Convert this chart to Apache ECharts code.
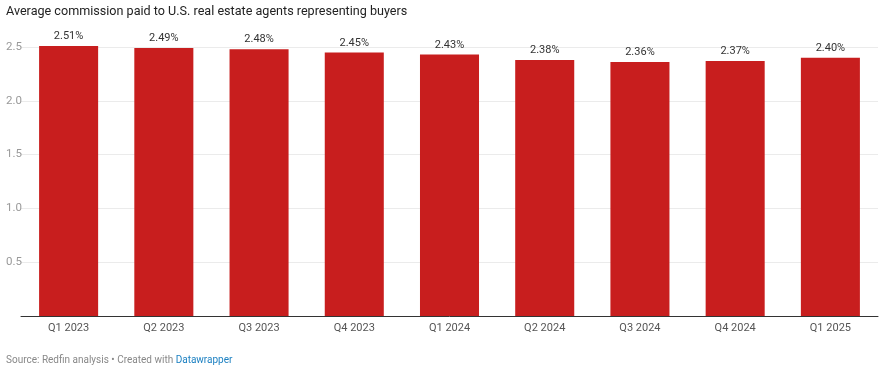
<!DOCTYPE html>
<html><head><meta charset="utf-8">
<script src="https://cdn.jsdelivr.net/npm/echarts@6/dist/echarts.min.js"></script>
<style>html,body{margin:0;padding:0;background:#fff}#c{width:879px;height:374px}</style>
</head><body><div id="c"></div>
<script>
const titleText = "Average commission paid to U.S. real estate agents representing buyers";
const categories = ["Q1 2023","Q2 2023","Q3 2023","Q4 2023","Q1 2024","Q2 2024","Q3 2024","Q4 2024","Q1 2025"];
const values = [2.51, 2.49, 2.48, 2.45, 2.43, 2.38, 2.36, 2.37, 2.40];
const yTicks = [0, 0.5, 1.0, 1.5, 2.0, 2.5];

const chart = echarts.init(document.getElementById('c'), null, {renderer:'canvas'});
chart.setOption({
  animation: false,
  textStyle: {fontFamily: 'Roboto'},
  title: {text: titleText, left: 6, top: 5, padding: 0,
    textStyle: {fontFamily: 'Roboto', fontSize: 12.6, fontWeight: 'normal', color: '#222'}},
  graphic: [{
    type: 'text', left: 6, top: 355,
    style: {
      text: 'Source: Redfin analysis • Created with {a|Datawrapper}',
      fontFamily: 'Roboto', fontSize: 10, fill: '#888',
      rich: {a: {fill: '#1d81c2', fontFamily: 'Roboto', fontSize: 10}}
    }
  }],
  grid: {left: 21, right: 1, top: 47, bottom: 58},
  xAxis: {
    type: 'category', data: categories,
    axisLine: {lineStyle: {color: '#333', width: 1}},
    axisTick: {show: false},
    axisLabel: {color: '#555', fontSize: 11, margin: 7, fontFamily: 'Roboto'}
  },
  yAxis: {
    type: 'value', min: yTicks[0], max: yTicks[yTicks.length-1], interval: 0.5,
    axisLine: {show: false}, axisTick: {show: false},
    splitLine: {lineStyle: {color: '#ebebeb', width: 1}},
    axisLabel: {color: '#999', fontSize: 11.5, align: 'left', margin: 15, showMinLabel: false,
      fontFamily: 'Roboto', formatter: v => v.toFixed(1)}
  },
  series: [{
    type: 'bar', data: values, barWidth: '62%', clip: false,
    itemStyle: {color: '#c81e1e'},
    label: {show: true, position: 'top', distance: 4, color: '#333', fontSize: 11,
      fontFamily: 'Roboto', formatter: p => p.value.toFixed(2) + '%'}
  }]
});
</script></body></html>
